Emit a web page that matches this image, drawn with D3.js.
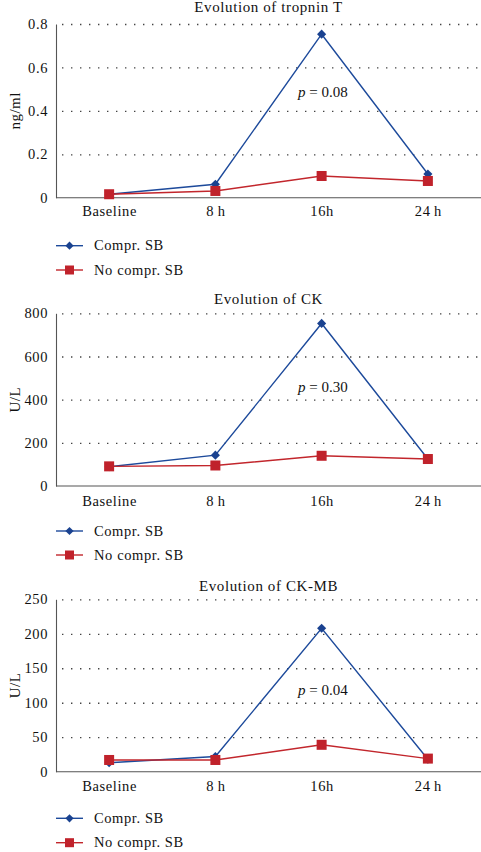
<!DOCTYPE html>
<html>
<head>
<meta charset="utf-8">
<script src="https://cdn.jsdelivr.net/npm/d3@7"></script>
<style>
  html, body { margin: 0; padding: 0; background: #fff; }
  svg { display: block; }
  svg text { font-family: "Liberation Serif", "Times New Roman", serif !important; fill: #111; }
</style>
</head>
<body>
<svg id="chart" width="481" height="852"></svg>
<script>
// ---- Data ----
const categories = ["Baseline", "8\u2009h", "16h", "24\u2009h"];
const seriesNames = ["Compr. SB", "No compr. SB"];

const troponinCompr   = [0.016, 0.062, 0.753, 0.109];
const troponinNoCompr = [0.016, 0.031, 0.100, 0.077];
const troponinTicks   = [0, 0.2, 0.4, 0.6, 0.8];

const ckCompr   = [89, 143, 753, 125];
const ckNoCompr = [91, 95, 140, 125];
const ckTicks   = [0, 200, 400, 600, 800];

const ckmbCompr   = [13, 22, 208, 18];
const ckmbNoCompr = [17, 17, 39, 19];
const ckmbTicks   = [0, 50, 100, 150, 200, 250];

const titles  = ["Evolution of tropnin T", "Evolution of CK", "Evolution of CK-MB"];
const yLabels = ["ng/ml", "U/L", "U/L"];
const pValues = ["0.08", "0.30", "0.04"];

// ---- Layout (positions/styles, kept separate from data) ----
const colors = ["#1d4a9b", "#c2262c"];
const markerColors = ["#1a4290", "#c0222b"];
const xLeft = 56, xRight = 481;
const layout = [
  { top: 24,    bottom: 197.7, titleY: 12,    xLabY: 216,   pY: 97,    legY: [245.7, 270] },
  { top: 313.3, bottom: 486,   titleY: 304,   xLabY: 506,   pY: 391.7, legY: [531, 555] },
  { top: 599.3, bottom: 771.7, titleY: 590.7, xLabY: 790.7, pY: 695,   legY: [818.3, 842.7] }
];

const panels = [
  { title: titles[0], yLabel: yLabels[0], p: pValues[0], ticks: troponinTicks, fmt: d => d === 0 ? "0" : d3.format(".1f")(d), series: [troponinCompr, troponinNoCompr] },
  { title: titles[1], yLabel: yLabels[1], p: pValues[1], ticks: ckTicks,       fmt: d3.format("d"), series: [ckCompr, ckNoCompr] },
  { title: titles[2], yLabel: yLabels[2], p: pValues[2], ticks: ckmbTicks,     fmt: d3.format("d"), series: [ckmbCompr, ckmbNoCompr] }
];

const svg = d3.select("#chart");
const x = d3.scalePoint().domain(categories).range([xLeft, xRight]).padding(0.5);
const FONT = "'Liberation Serif', 'Times New Roman', serif";

panels.forEach((p, i) => {
  const L = layout[i];
  const y = d3.scaleLinear().domain([0, d3.max(p.ticks)]).range([L.bottom, L.top]);
  const g = svg.append("g");

  // title
  g.append("text").attr("x", (xLeft + xRight) / 2).attr("y", L.titleY)
    .attr("text-anchor", "middle").style("font-size", "15px").style("letter-spacing", "0.6px")
    .text(p.title);

  // grid
  const grid = g.append("g").attr("transform", `translate(${xLeft},0)`)
    .call(d3.axisLeft(y).tickValues(p.ticks.filter(t => t > 0)).tickSize(-(xRight - xLeft)).tickFormat(""));
  grid.select(".domain").remove();
  grid.selectAll(".tick line").attr("stroke", "#444").attr("stroke-width", 1.3)
    .attr("stroke-dasharray", "1.4,7.6").attr("stroke-dashoffset", -6);

  // y axis
  const ya = g.append("g").attr("transform", `translate(${xLeft},0)`)
    .call(d3.axisLeft(y).tickValues(p.ticks).tickSize(0).tickPadding(8).tickFormat(p.fmt))
    .attr("font-family", FONT).attr("font-size", 14);
  ya.select(".domain").attr("stroke", "#555").attr("stroke-width", 1.1);
  ya.selectAll("text").style("font-size", "14.5px").style("letter-spacing", "0.6px").attr("fill", "#111");

  // x axis
  const xa = g.append("g").attr("transform", `translate(0,${L.bottom})`)
    .call(d3.axisBottom(x).tickSize(0).tickPadding(0))
    .attr("font-family", FONT).attr("font-size", 14);
  xa.select(".domain").attr("stroke", "#555").attr("stroke-width", 1.1).attr("d", `M${xLeft},0H${xRight}`);
  xa.selectAll("text").attr("dy", null).attr("y", L.xLabY - L.bottom)
    .style("font-size", "14.5px").style("letter-spacing", "0.6px").attr("fill", "#111");

  // y label
  g.append("text")
    .attr("transform", `translate(20,${(L.top + L.bottom) / 2}) rotate(-90)`)
    .attr("text-anchor", "middle").style("font-size", "15px").style("letter-spacing", "0.5px")
    .text(p.yLabel);

  // lines + markers
  const line = d3.line().x((d, j) => x(categories[j])).y(d => y(d));
  p.series.forEach((vals, s) => {
    g.append("path").datum(vals).attr("d", line)
      .attr("fill", "none").attr("stroke", colors[s]).attr("stroke-width", 1.4);
  });
  p.series.forEach((vals, s) => {
    const mg = g.append("g");
    if (s === 0) {
      mg.selectAll("path").data(vals).join("path")
        .attr("d", d3.symbol().type(d3.symbolSquare).size(42))
        .attr("transform", (d, j) => `translate(${x(categories[j])},${y(d)}) rotate(45)`)
        .attr("fill", markerColors[0]);
    } else {
      mg.selectAll("rect").data(vals).join("rect")
        .attr("x", (d, j) => x(categories[j]) - 5).attr("y", d => y(d) - 5)
        .attr("width", 10).attr("height", 10).attr("fill", markerColors[1]);
    }
  });

  // p value
  const pt = g.append("text").attr("x", 298).attr("y", L.pY).style("font-size", "15px");
  pt.append("tspan").style("font-style", "italic").text("p");
  pt.append("tspan").text(" = " + p.p);

  // legend
  seriesNames.forEach((name, s) => {
    const ly = L.legY[s];
    const lg = g.append("g");
    lg.append("line").attr("x1", 56).attr("x2", 83).attr("y1", ly).attr("y2", ly)
      .attr("stroke", colors[s]).attr("stroke-width", 1.4);
    if (s === 0) {
      lg.append("path").attr("d", d3.symbol().type(d3.symbolSquare).size(34))
        .attr("transform", `translate(69.5,${ly}) rotate(45)`).attr("fill", markerColors[0]);
    } else {
      lg.append("rect").attr("x", 65).attr("y", ly - 4.5).attr("width", 9).attr("height", 9).attr("fill", markerColors[1]);
    }
    lg.append("text").attr("x", 94).attr("y", ly + 4.5).style("font-size", "14.5px").style("letter-spacing", "0.6px").text(name);
  });
});
</script>
</body>
</html>
